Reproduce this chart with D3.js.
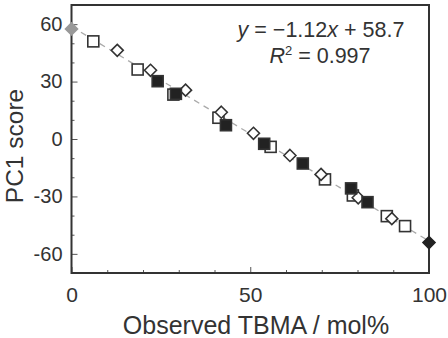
<!DOCTYPE html>
<html>
<head>
<meta charset="utf-8">
<script src="https://cdn.jsdelivr.net/npm/d3@7"></script>
<style>
  body { margin: 0; background: #fff; }
  text { font-family: "Liberation Sans", Arial, sans-serif; fill: #333; }
</style>
</head>
<body>
<div id="chart"></div>
<script>
// series (x = observed TBMA mol%, y = PC1 score)
var openSquares = [[6.1, 51.0], [18.5, 36.3], [28.5, 23.2], [41.1, 11.1], [55.7, -4.1],
                   [70.9, -21.1], [78.7, -29.5], [88.2, -40.3], [93.3, -45.5]];
var openDiamonds = [[12.8, 46.3], [22.1, 35.9], [31.9, 25.5], [41.9, 14.0], [50.9, 3.0],
                    [61.1, -8.6], [69.8, -18.5], [80.2, -30.7], [89.6, -41.6]];
var filledSquares = [[24.1, 30.2], [29.2, 23.6], [43.2, 7.2], [53.9, -2.5], [64.7, -12.8],
                     [78.2, -25.8], [82.8, -33.0]];
var greyDiamonds = [[0, 57.5]];
var blackDiamonds = [[100, -54.1]];
var fitSlope = -1.12, fitIntercept = 58.7;
var xMajor = [0, 50, 100];
var yMajor = [60, 30, 0, -30, -60];

var width = 448, height = 338;
var margin = {top: 5, right: 19, bottom: 65, left: 71.5};

var svg = d3.select("#chart").append("svg")
    .attr("width", width)
    .attr("height", height);

var x = d3.scaleLinear().domain([0, 100]).range([margin.left, width - margin.right]);
var y = d3.scaleLinear().domain([-70, 70]).range([height - margin.bottom, margin.top]);

// ticks, pointing inward
var xMinor = d3.range(10, 100, 10).filter(function(v){ return xMajor.indexOf(v) < 0; });
var yMinor = d3.range(-60, 70, 10).filter(function(v){ return yMajor.indexOf(v) < 0; });

svg.append("g")
   .attr("transform", "translate(0," + y(-70) + ")")
   .call(d3.axisBottom(x).tickValues(xMinor).tickSize(-3).tickFormat(""))
   .call(function(g){ g.select(".domain").remove(); g.selectAll("line").attr("stroke", "#555"); });
svg.append("g")
   .attr("transform", "translate(0," + y(-70) + ")")
   .call(d3.axisBottom(x).tickValues(xMajor).tickSize(-6).tickPadding(14).tickFormat(d3.format("d")))
   .call(function(g){
     g.select(".domain").remove();
     g.selectAll("line").attr("stroke", "#555");
     g.selectAll("text").attr("font-size", 21).attr("fill", "#333")
      .attr("font-family", "Liberation Sans, Arial, sans-serif");
   });

svg.append("g")
   .attr("transform", "translate(" + x(0) + ",0)")
   .call(d3.axisLeft(y).tickValues(yMinor).tickSize(-3).tickFormat(""))
   .call(function(g){ g.select(".domain").remove(); g.selectAll("line").attr("stroke", "#555"); });
svg.append("g")
   .attr("transform", "translate(" + x(0) + ",0)")
   .call(d3.axisLeft(y).tickValues(yMajor).tickSize(-6).tickPadding(9)
         .tickFormat(function(d){ return String(d); }))
   .call(function(g){
     g.select(".domain").remove();
     g.selectAll("line").attr("stroke", "#555");
     g.selectAll("text").attr("font-size", 20).attr("fill", "#333")
      .attr("font-family", "Liberation Sans, Arial, sans-serif");
   });

// frame
svg.append("rect")
   .attr("x", x(0)).attr("y", y(70))
   .attr("width", x(100) - x(0))
   .attr("height", y(-70) - y(70))
   .attr("fill", "none")
   .attr("stroke", "#333")
   .attr("stroke-width", 2);

// fit line
svg.append("line")
   .attr("x1", x(0)).attr("y1", y(fitIntercept))
   .attr("x2", x(100)).attr("y2", y(fitIntercept + fitSlope * 100))
   .attr("stroke", "#aaa")
   .attr("stroke-width", 1.3)
   .attr("stroke-dasharray", "6,5");

var sq = 11, dm = 12;

function drawSquares(data, fill) {
  svg.append("g").selectAll("rect")
     .data(data).enter().append("rect")
     .attr("x", function(d){ return x(d[0]) - sq / 2; })
     .attr("y", function(d){ return y(d[1]) - sq / 2; })
     .attr("width", sq).attr("height", sq)
     .attr("fill", fill)
     .attr("stroke", "#333")
     .attr("stroke-width", 1.6);
}

function drawDiamonds(data, fill, stroke) {
  svg.append("g").selectAll("path")
     .data(data).enter().append("path")
     .attr("d", function(d){
       var cx = x(d[0]), cy = y(d[1]), r = dm / 2;
       return "M" + cx + "," + (cy - r) + "L" + (cx + r) + "," + cy +
              "L" + cx + "," + (cy + r) + "L" + (cx - r) + "," + cy + "Z";
     })
     .attr("fill", fill)
     .attr("stroke", stroke)
     .attr("stroke-width", 1.6);
}

drawSquares(openSquares, "#fff");
drawDiamonds(openDiamonds, "#fff", "#333");
drawSquares(filledSquares, "#222");
drawDiamonds(greyDiamonds, "#999", "#999");
drawDiamonds(blackDiamonds, "#222", "#222");

// equation
var eq = svg.append("text")
   .attr("x", 321).attr("y", 37)
   .attr("text-anchor", "middle")
   .attr("font-size", 21.5);
eq.append("tspan").attr("font-style", "italic").text("y");
eq.append("tspan").text(" = \u22121.12");
eq.append("tspan").attr("font-style", "italic").text("x");
eq.append("tspan").text(" + 58.7");

var r2 = svg.append("text")
   .attr("x", 320).attr("y", 63)
   .attr("text-anchor", "middle")
   .attr("font-size", 21.5);
r2.append("tspan").attr("font-style", "italic").text("R");
r2.append("tspan").attr("font-size", 13).attr("dy", -8).text("2");
r2.append("tspan").attr("dy", 8).text(" = 0.997");

// axis titles
svg.append("text")
   .attr("x", 256).attr("y", 334)
   .attr("text-anchor", "middle")
   .attr("font-size", 25)
   .text("Observed TBMA / mol%");

svg.append("text")
   .attr("transform", "translate(23," + 146 + ") rotate(-90)")
   .attr("text-anchor", "middle")
   .attr("font-size", 24.5)
   .text("PC1 score");
</script>
</body>
</html>
